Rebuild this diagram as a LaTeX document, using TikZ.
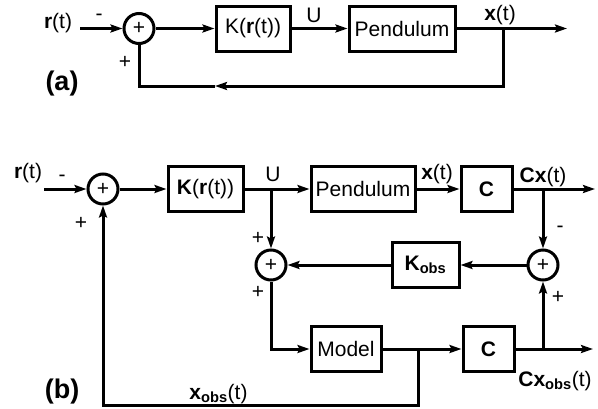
\documentclass[tikz,border=0pt]{standalone}
\usepackage{fontspec}
\setmainfont{Liberation Sans}
\usetikzlibrary{arrows.meta}

\begin{document}
\begin{tikzpicture}[x=1pt,y=-1pt,line width=3pt,
  >={Stealth[length=12pt,width=8pt,inset=2pt]},
  blk/.style={draw,minimum height=45pt,inner sep=0pt},
  sumc/.style={draw,circle,minimum size=30pt,inner sep=0pt},
  lbl/.style={inner sep=0pt},
  tag/.style={inner sep=0pt,font=\fontsize{27}{30}\selectfont\bfseries},
  font=\fontsize{21}{25}\selectfont]
\useasboundingbox (0,0) rectangle (598,408);
% (a)
\node[lbl](r1) at (58,23){\textbf{r}(t)};
\node[lbl](m1) at (99,17){-};
\coordinate(i1) at (80,28.5);
\node[sumc](s1) at (139,28.5){+};
\node[lbl](p1) at (125,62){+};
\node[blk,minimum width=74pt](k1) at (253,28.5){K(\textbf{r}(t))};
\node[lbl](u1) at (314,15){U};
\node[blk,minimum width=106pt](pe1) at (402,28.5){Pendulum};
\node[lbl](x1) at (500,15){\textbf{x}(t)};
\coordinate(o1) at (567,28.5);
\coordinate(b1) at (503,28.5);
\coordinate(f1) at (503,86);
\coordinate(a1) at (215,86);
\node[tag](ta) at (62,84){(a)};
\draw[->](i1) -- (s1);
\draw[->](s1) -- (k1);
\draw[->](k1) -- (pe1);
\draw[->](pe1) -- (o1);
\draw[->](b1) -- (f1) -- (a1);
\draw(a1) -| (s1);
% (b)
\node[lbl](r2) at (28,173){\textbf{r}(t)};
\node[lbl](m2) at (62,178){-};
\coordinate(i2) at (44,189);
\node[sumc](s2) at (103,189){+};
\node[lbl](p2) at (81,223){+};
\node[blk,minimum width=75pt](k2) at (205.5,189){\textbf{K}(\textbf{r}(t))};
\node[lbl](u2) at (273,174){U};
\coordinate(b2) at (271,189);
\node[blk,minimum width=104pt](pe2) at (363,189){Pendulum};
\node[lbl](x2) at (437,174){\textbf{x}(t)};
\node[blk,minimum width=51pt](c2) at (486.5,189){\textbf{C}};
\node[lbl](cx2) at (543,177){\textbf{Cx}(t)};
\coordinate(b3) at (543,189);
\coordinate(o2) at (595,189);
\node[lbl](m3) at (560,229){-};
\node[sumc](s4) at (543,265){+};
\node[blk,minimum width=67pt](ko) at (425.5,265){\textbf{K\textsubscript{obs}}};
\node[sumc](s3) at (271,265){+};
\node[lbl](p3) at (258,238){+};
\node[lbl](p4) at (258,292){+};
\node[blk,minimum width=70pt](mo) at (346,349){Model};
\node[blk,minimum width=51pt](c3) at (488.5,349){\textbf{C}};
\coordinate(b4) at (418,349);
\coordinate(f2) at (418,405);
\coordinate(b5) at (543,349);
\coordinate(o3) at (593,349);
\node[lbl](p5) at (558,297){+};
\node[lbl](cx3) at (555,381){\textbf{Cx\textsubscript{obs}}(t)};
\node[lbl,anchor=base east](xo) at (249,399){\textbf{x\textsubscript{obs}}(t)};
\node[tag](tb) at (62,392){(b)};
\draw[->](i2) -- (s2);
\draw[->](s2) -- (k2);
\draw[->](k2) -- (pe2);
\draw[->](pe2) -- (c2);
\draw[->](c2) -- (o2);
\draw[->](b2) -- (s3);
\draw[->](b3) -- (s4);
\draw[->](s4) -- (ko);
\draw[->](ko) -- (s3);
\draw[->](s3) |- (mo);
\draw[->](mo) -- (c3);
\draw[->](c3) -- (o3);
\draw[->](b5) -- (s4);
\draw[->](b4) -- (f2) -| (s2);
\end{tikzpicture}
\end{document}
